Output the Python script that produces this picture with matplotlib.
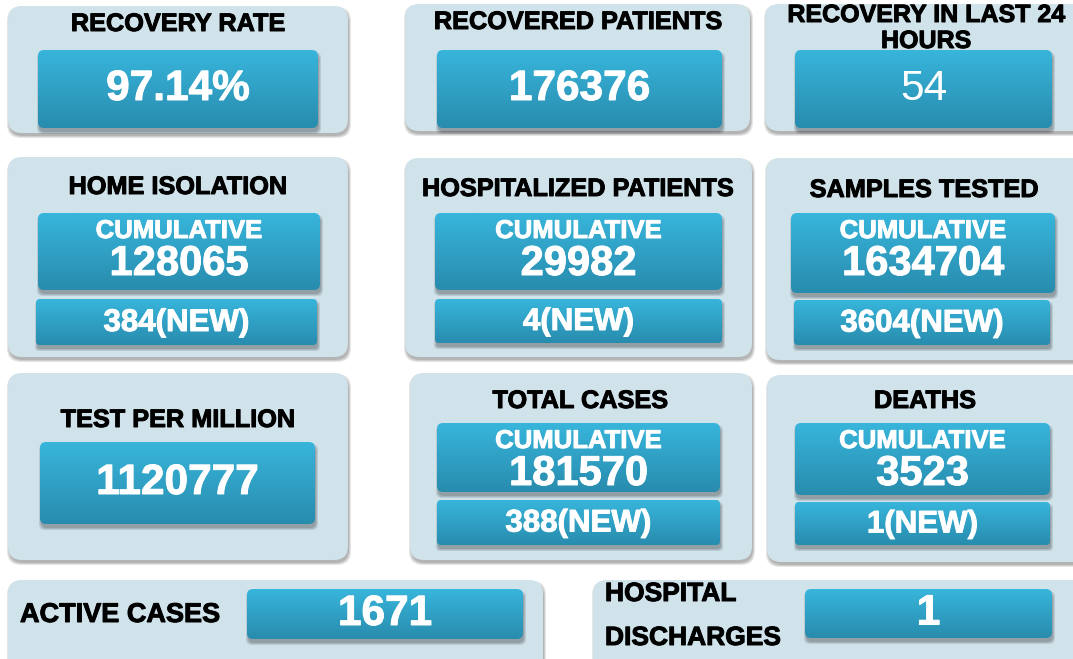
"""
COVID-19 status dashboard: eleven cards with headline figures.
Drawn on one pixel-scaled axes (1 data unit = 1 px, y pointing down).
"""

import matplotlib

matplotlib.use("Agg")
import matplotlib.patheffects as pe
import matplotlib.pyplot as plt
import numpy as np
from matplotlib.patches import FancyBboxPatch

W, H = 1073, 659

# ---- data -------------------------------------------------------------
TITLES = [
    "RECOVERY RATE",
    "RECOVERED PATIENTS",
    "RECOVERY IN LAST 24\nHOURS",
    "HOME ISOLATION",
    "HOSPITALIZED PATIENTS",
    "SAMPLES TESTED",
    "TEST PER MILLION",
    "TOTAL CASES",
    "DEATHS",
    "ACTIVE CASES",
    "HOSPITAL\nDISCHARGES",
]
VALUES = ["97.14%", "176376", "54", "128065", "29982", "1634704",
          "1120777", "181570", "3523", "1671", "1"]
NEW_VALUES = [None, None, None, 384, 4, 3604, None, 388, 1, None, None]
CUMULATIVE = [False, False, False, True, True, True, False, True, True, False, False]

# ---- layout (pixels: x, y, w, h) -------------------------------------
CARDS = [
    (8, 6, 340, 127), (405, 4, 345, 127), (765, 4, 330, 127),
    (8, 157, 340, 200), (405, 158, 347, 199), (766, 158, 330, 202),
    (8, 373, 340, 187), (410, 373, 342, 187), (767, 375, 330, 187),
    (8, 580, 535, 95), (593, 580, 500, 95),
]
MAIN_BOX = [
    (38, 50, 280, 78), (437, 50, 285, 78), (795, 50, 257, 78),
    (38, 213, 282, 77), (435, 213, 287, 77), (791, 213, 264, 80),
    (40, 442, 275, 82), (437, 423, 283, 69), (795, 423, 255, 72),
    (247, 589, 276, 50), (805, 589, 247, 49),
]
NEW_BOX = [None, None, None,
           (36, 299, 281, 46), (435, 299, 287, 44), (794, 300, 256, 45),
           None, (437, 500, 283, 45), (795, 502, 255, 43),
           None, None]
TITLE_POS = [
    (178, 24), (578, 22), (926, 27),
    (178, 187), (578, 189), (924, 190),
    (178, 420), (580, 401), (925, 401),
    (20, 615), (605, 615),
]

CARD_COLOR = "#d0e2ea"
TOP_BLUE = np.array([0x38, 0xb5, 0xdb]) / 255.0
BOT_BLUE = np.array([0x28, 0x8c, 0xae]) / 255.0
FONT = ["Liberation Sans", "DejaVu Sans"]
BLACK_FX = [pe.withStroke(linewidth=0.7, foreground="black")]
WHITE_FX = [pe.withStroke(linewidth=0.7, foreground="white")]


def shadow(ax, x, y, w, h, r, dy, z):
    for k, a in enumerate([0.10, 0.10, 0.12]):
        grow = 2 - k
        ax.add_patch(FancyBboxPatch(
            (x - grow + 1, y + dy - grow), w + 2 * grow, h + 2 * grow,
            boxstyle=f"round,pad=0,rounding_size={r}",
            fc="#000000", ec="none", alpha=a, zorder=z))


def gradient_box(ax, box, r=6, z=3):
    x, y, w, h = box
    shadow(ax, x, y, w, h, r, 4, z - 0.5)
    patch = FancyBboxPatch((x, y), w, h, boxstyle=f"round,pad=0,rounding_size={r}",
                           fc="none", ec="none", zorder=z)
    ax.add_patch(patch)
    t = np.linspace(0, 1, 64)[:, None, None]
    grad = TOP_BLUE * (1 - t) + BOT_BLUE * t
    im = ax.imshow(grad, extent=(x, x + w, y + h, y), origin="upper",
                   aspect="auto", interpolation="bilinear", zorder=z)
    im.set_clip_path(patch)


def card(ax, box):
    x, y, w, h = box
    shadow(ax, x, y, w, h, 14, 3, 0.5)
    ax.add_patch(FancyBboxPatch((x, y), w, h, boxstyle="round,pad=0,rounding_size=14",
                                fc=CARD_COLOR, ec="none", zorder=1))


def title_text(ax, x, y, s, size, ha="center"):
    ax.text(x, y, s, ha=ha, va="center", fontsize=size, fontweight="bold",
            family=FONT, zorder=2, path_effects=BLACK_FX)


def white_text(ax, x, y, s, size, weight="bold"):
    fx = WHITE_FX if weight == "bold" else None
    ax.text(x, y, s, ha="center", va="center", fontsize=size, fontweight=weight,
            color="white", family=FONT, zorder=5, path_effects=fx)


def main() -> None:
    fig = plt.figure(figsize=(W / 100, H / 100), dpi=100)
    fig.patch.set_facecolor("white")
    ax = fig.add_axes([0, 0, 1, 1])
    ax.axis("off")

    for i, title in enumerate(TITLES):
        card(ax, CARDS[i])
        tx, ty = TITLE_POS[i]
        if i == 9:
            title_text(ax, tx, ty, title, 19.5, ha="left")
        elif i == 10:
            top, bottom = title.split("\n")
            title_text(ax, tx, 594, top, 19, ha="left")
            title_text(ax, tx, 638, bottom, 19, ha="left")
        elif i == 2:
            top, bottom = title.split("\n")
            title_text(ax, tx, 15, top, 18)
            title_text(ax, tx, 41, bottom, 18)
        else:
            title_text(ax, tx, ty, title, 18.2)

        bx, by, bw, bh = MAIN_BOX[i]
        gradient_box(ax, MAIN_BOX[i])
        cx = bx + bw / 2
        if CUMULATIVE[i]:
            white_text(ax, cx, by + 18, "CUMULATIVE", 18.5)
            white_text(ax, cx, by + 51, VALUES[i], 30)
        else:
            weight = "normal" if i == 2 else "bold"
            white_text(ax, cx, by + bh / 2, VALUES[i], 30.5, weight)

        if NEW_BOX[i] is not None:
            nx, ny, nw, nh = NEW_BOX[i]
            gradient_box(ax, NEW_BOX[i], r=4)
            white_text(ax, nx + nw / 2, ny + nh / 2 + 1, f"{NEW_VALUES[i]}(NEW)", 22.5)

    ax.set_xlim(0, W)
    ax.set_ylim(H, 0)
    fig.savefig("out.png", dpi=100, facecolor="white")
    plt.close(fig)


if __name__ == "__main__":
    main()
